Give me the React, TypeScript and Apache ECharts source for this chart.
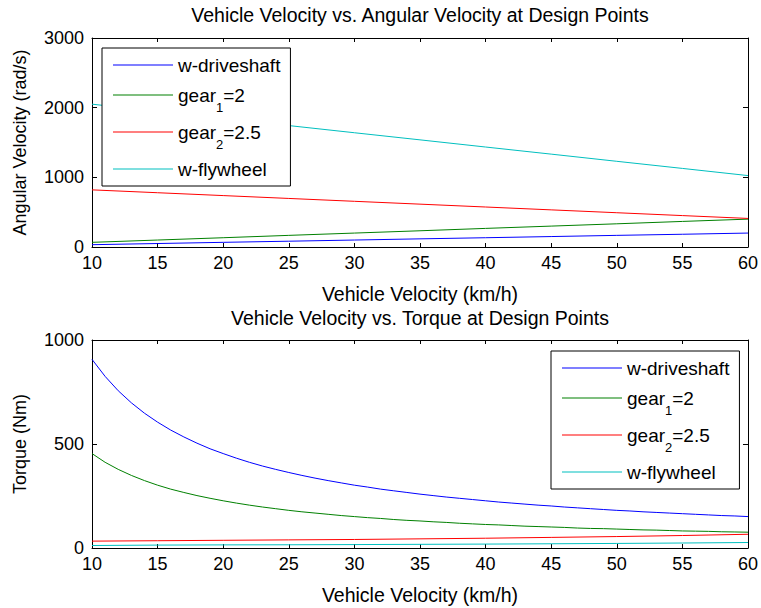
import React, { useEffect, useRef } from 'react';
import * as echarts from 'echarts';

const FONT = '"Liberation Sans", Arial, Helvetica, sans-serif';

// ---- Data: top plot (angular velocity, rad/s), sampled every 5 km/h ----
const velocityCoarse = [10, 15, 20, 25, 30, 35, 40, 45, 50, 55, 60];
const wDriveshaftSpeed = [33, 50, 67, 83, 100, 117, 133, 150, 167, 183, 200];
const gear1Speed = [67, 100, 133, 167, 200, 233, 267, 300, 333, 367, 400];
const gear2Speed = [820, 779, 738, 697, 656, 615, 574, 533, 492, 451, 410];
const wFlywheelSpeed = [2050, 1948, 1845, 1743, 1640, 1538, 1435, 1333, 1230, 1128, 1025];

// ---- Data: bottom plot (torque, Nm) ----
const velocityFine = [
  10, 11, 12, 13, 14, 15, 16, 17, 18, 19, 20, 21, 22, 23, 24, 25, 26, 27, 28, 29, 30,
  31, 32, 33, 34, 35, 36, 37, 38, 39, 40, 41, 42, 43, 44, 45, 46, 47, 48, 49, 50,
  51, 52, 53, 54, 55, 56, 57, 58, 59, 60,
];
const wDriveshaftTorque = [
  907, 825, 756, 698, 648, 605, 567, 534, 504, 477, 454, 432, 412, 394, 378, 363, 349, 336, 324, 313, 302,
  293, 283, 275, 267, 259, 252, 245, 239, 233, 227, 221, 216, 211, 206, 202, 197, 193, 189, 185, 181,
  178, 174, 171, 168, 165, 162, 159, 156, 154, 151,
];
const gear1Torque = [
  454, 412, 378, 349, 324, 302, 283, 267, 252, 239, 227, 216, 206, 197, 189, 181, 174, 168, 162, 156, 151,
  146, 142, 137, 133, 130, 126, 123, 119, 116, 113, 111, 108, 105, 103, 101, 99, 96, 94, 93, 91,
  89, 87, 86, 84, 82, 81, 80, 78, 77, 76,
];
const gear2Torque = [33, 35, 37, 39, 41, 44, 47, 51, 55, 60, 66];
const wFlywheelTorque = [12, 14, 15, 15.5, 16.5, 17.6, 18.8, 20.3, 22, 24, 26.4];

const seriesNames = ['w-driveshaft', 'gear1=2', 'gear2=2.5', 'w-flywheel'];
const seriesColors = ['#0000ff', '#008000', '#ff0000', '#00bfbf'];

const xTicks = { min: 10, max: 60, interval: 5 };
const topYTicks = { min: 0, max: 3000, interval: 1000 };
const bottomYTicks = { min: 0, max: 1000, interval: 500 };

const titles = [
  'Vehicle Velocity vs. Angular Velocity at Design Points',
  'Vehicle Velocity vs. Torque at Design Points',
];
const xName = 'Vehicle Velocity (km/h)';
const yNames = ['Angular Velocity (rad/s)', 'Torque (Nm)'];

const axisLine = { show: true, onZero: false, lineStyle: { color: '#000', width: 1 } };
const tickLabel = { fontSize: 18, fontFamily: FONT, color: '#000', formatter: (v: number) => String(v) };

function xAxes(gridIndex: number) {
  return [
    {
      type: 'value', gridIndex, ...xTicks, position: 'bottom',
      axisLine, axisTick: { show: true, inside: true, length: 4, lineStyle: { color: '#000' } },
      axisLabel: { ...tickLabel, margin: 7 },
      splitLine: { show: false },
      name: xName, nameLocation: 'middle', nameGap: 37,
      nameTextStyle: { fontSize: 19.5, fontFamily: FONT, color: '#000' },
    },
    {
      type: 'value', gridIndex, ...xTicks, position: 'top',
      axisLine, axisTick: { show: true, inside: true, length: 4, lineStyle: { color: '#000' } },
      axisLabel: { show: false }, splitLine: { show: false },
    },
  ];
}

function yAxes(gridIndex: number, ticks: any, name: string) {
  return [
    {
      type: 'value', gridIndex, ...ticks, position: 'left',
      axisLine, axisTick: { show: true, inside: true, length: 5, lineStyle: { color: '#000' } },
      axisLabel: { ...tickLabel, margin: 8 },
      splitLine: { show: false },
      name, nameLocation: 'middle', nameGap: 63,
      nameTextStyle: { fontSize: 18, fontFamily: FONT, color: '#000' },
    },
    {
      type: 'value', gridIndex, ...ticks, position: 'right',
      axisLine, axisTick: { show: true, inside: true, length: 5, lineStyle: { color: '#000' } },
      axisLabel: { show: false }, splitLine: { show: false },
    },
  ];
}

function pairs(xs: number[], ys: number[]) {
  return xs.map((x, i) => [x, ys[i]]);
}

function lineSeries(name: string, color: string, axisBase: number, data: number[][]) {
  return {
    type: 'line', name, color,
    xAxisIndex: axisBase, yAxisIndex: axisBase,
    data, symbol: 'none', showSymbol: false,
    lineStyle: { color, width: 1 },
    emphasis: { disabled: true },
  };
}

function legend(left: number, top: number) {
  return {
    data: seriesNames,
    orient: 'vertical', left, top,
    padding: [5, 10, 5, 11], itemGap: 6,
    itemWidth: 60, itemHeight: 1, icon: 'rect',
    backgroundColor: '#fff', borderColor: '#000', borderWidth: 1, borderRadius: 0,
    selectedMode: false,
    formatter: (n: string) => n.replace(/^gear(\d)/, 'gear{s|$1}'),
    textStyle: {
      fontSize: 19, fontFamily: FONT, color: '#000', lineHeight: 24,
      rich: {
        s: { fontSize: 13, fontFamily: FONT, color: '#000', lineHeight: 13, verticalAlign: 'top', padding: [18, 0, 0, 0] },
      },
    },
  };
}

function titleText(text: string, y: number) {
  return {
    type: 'text', x: 420, y, silent: true,
    style: {
      text, fontSize: 19.5, fontFamily: FONT, fill: '#000',
      align: 'center', verticalAlign: 'top', textAlign: 'center', textVerticalAlign: 'top',
    },
  };
}

export default function App() {
  const ref = useRef<HTMLDivElement>(null);
  useEffect(() => {
    const chart = echarts.init(ref.current!, null, { renderer: 'svg' });
    const option: any = {
      animation: false,
      backgroundColor: '#fff',
      grid: [
        { left: 92, right: 12, top: 38, height: 209 },
        { left: 92, right: 12, top: 340, height: 208 },
      ],
      xAxis: [...xAxes(0), ...xAxes(1)],
      yAxis: [...yAxes(0, topYTicks, yNames[0]), ...yAxes(1, bottomYTicks, yNames[1])],
      legend: [legend(102, 48), legend(551, 351)],
      graphic: [titleText(titles[0], 5), titleText(titles[1], 308)],
      series: [
        lineSeries(seriesNames[0], seriesColors[0], 0, pairs(velocityCoarse, wDriveshaftSpeed)),
        lineSeries(seriesNames[1], seriesColors[1], 0, pairs(velocityCoarse, gear1Speed)),
        lineSeries(seriesNames[2], seriesColors[2], 0, pairs(velocityCoarse, gear2Speed)),
        lineSeries(seriesNames[3], seriesColors[3], 0, pairs(velocityCoarse, wFlywheelSpeed)),
        lineSeries(seriesNames[0], seriesColors[0], 2, pairs(velocityFine, wDriveshaftTorque)),
        lineSeries(seriesNames[1], seriesColors[1], 2, pairs(velocityFine, gear1Torque)),
        lineSeries(seriesNames[2], seriesColors[2], 2, pairs(velocityCoarse, gear2Torque)),
        lineSeries(seriesNames[3], seriesColors[3], 2, pairs(velocityCoarse, wFlywheelTorque)),
      ],
    };
    chart.setOption(option);
    return () => chart.dispose();
  }, []);
  return (
    <div
      ref={ref}
      style={{ position: 'fixed', left: 0, top: 0, width: 761, height: 608, background: '#fff' }}
    />
  );
}
